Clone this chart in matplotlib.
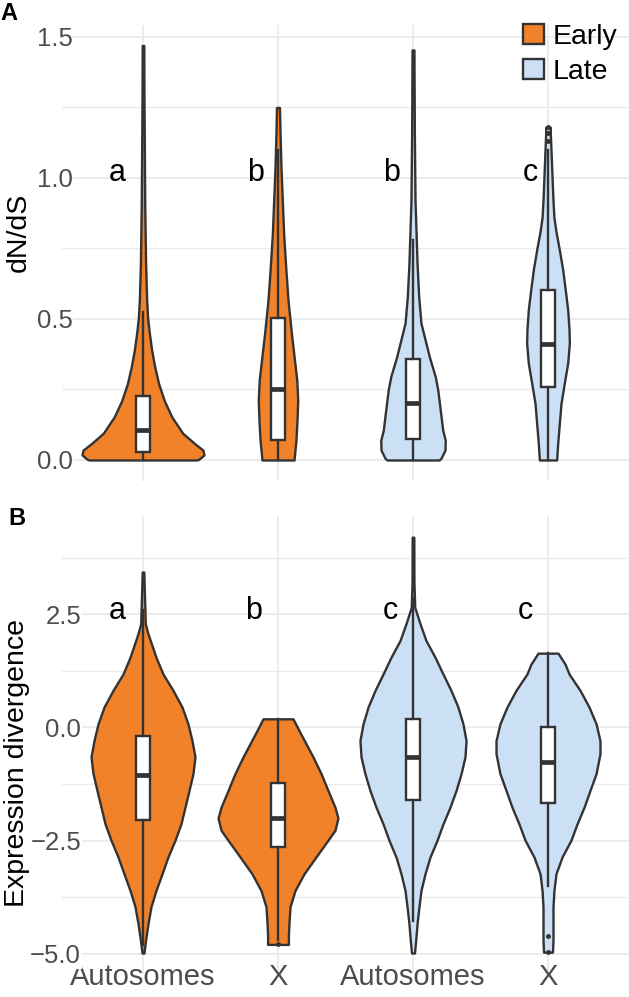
import matplotlib
matplotlib.use("Agg")
import matplotlib.pyplot as plt
from matplotlib.patches import Patch
import numpy as np

plt.rcParams['font.family'] = ['Liberation Sans', 'DejaVu Sans']

# categories / groups
categories = ["Autosomes", "X", "Autosomes", "X"]
groups = ["Early", "Early", "Late", "Late"]
group_colors = {"Early": "#F28229", "Late": "#CCE0F5"}
outline = "#333333"

# ---- panel A: dN/dS, violin outlines (y, half width) ----
dnds_y = [
    [0.0, 0.003, 0.018, 0.035, 0.06, 0.095, 0.153, 0.21, 0.27, 0.33, 0.39,
     0.45, 0.5, 0.567, 0.7, 0.9, 1.1, 1.3, 1.47],
    [0.0, 0.012, 0.07, 0.142, 0.213, 0.284, 0.33, 0.45, 0.567, 0.685, 0.8,
     0.92, 1.04, 1.16, 1.25],
    [0.0, 0.006, 0.035, 0.07, 0.106, 0.177, 0.25, 0.295, 0.366, 0.437, 0.485,
     0.58, 0.697, 0.816, 0.92, 1.16, 1.454],
    [0.0, 0.06, 0.13, 0.2, 0.273, 0.344, 0.414, 0.461, 0.532, 0.603, 0.674,
     0.745, 0.81, 0.86, 0.92, 0.98, 1.04, 1.1, 1.16, 1.18],
]
dnds_hw = [
    [0.40, 0.415, 0.452, 0.444, 0.378, 0.294, 0.213, 0.158, 0.116, 0.087, 0.064,
     0.047, 0.035, 0.027, 0.019, 0.013, 0.010, 0.007, 0.006],
    [0.119, 0.121, 0.133, 0.141, 0.146, 0.139, 0.128, 0.099, 0.074, 0.057, 0.042,
     0.032, 0.022, 0.015, 0.011],
    [0.193, 0.207, 0.237, 0.239, 0.22, 0.202, 0.183, 0.165, 0.121, 0.084, 0.059,
     0.042, 0.030, 0.022, 0.015, 0.010, 0.007],
    [0.064, 0.072, 0.084, 0.096, 0.121, 0.146, 0.158, 0.156, 0.146, 0.128, 0.109,
     0.084, 0.059, 0.044, 0.037, 0.032, 0.027, 0.022, 0.017, 0.017],
]
# box stats: whislo, q1, med, q3, whishi
dnds_box = [
    [0.0, 0.03, 0.106, 0.228, 0.525],
    [0.0, 0.071, 0.252, 0.503, 1.10],
    [0.0, 0.073, 0.201, 0.357, 0.78],
    [0.0, 0.26, 0.411, 0.603, 1.10],
]
dnds_fliers = [[], [], [], [1.13, 1.16, 1.18]]
dnds_letters = ["a", "b", "b", "c"]

# ---- panel B: expression divergence ----
expr_y = [
    [3.43, 2.9, 2.29, 2.07, 1.55, 1.18, 0.82, 0.45, 0.08, -0.29, -0.65, -1.02,
     -1.39, -1.76, -2.13, -2.49, -2.86, -3.23, -3.6, -3.96, -4.33, -4.7, -4.98],
    [0.19, -0.07, -0.65, -1.02, -1.39, -1.76, -2.0, -2.27, -2.49, -2.86, -3.23,
     -3.6, -3.96, -4.33, -4.6, -4.79],
    [4.2, 3.2, 2.65, 2.29, 1.92, 1.55, 1.18, 0.82, 0.45, 0.08, -0.29, -0.65,
     -1.02, -1.39, -1.76, -2.13, -2.49, -2.86, -3.23, -3.6, -3.96, -4.33, -4.7, -4.98],
    [1.64, 1.4, 1.18, 0.82, 0.45, 0.08, -0.29, -0.58, -1.02, -1.39, -1.76, -2.13,
     -2.49, -2.86, -3.23, -3.6, -3.96, -4.33, -4.7, -4.96],
]
expr_hw = [
    [0.006, 0.011, 0.017, 0.037, 0.096, 0.148, 0.222, 0.289, 0.333, 0.363, 0.385,
     0.370, 0.341, 0.311, 0.281, 0.237, 0.185, 0.141, 0.096, 0.059, 0.037, 0.019, 0.007],
    [0.111, 0.156, 0.259, 0.319, 0.370, 0.422, 0.444, 0.422, 0.370, 0.281, 0.193,
     0.126, 0.089, 0.081, 0.077, 0.077],
    [0.006, 0.007, 0.013, 0.052, 0.096, 0.163, 0.222, 0.281, 0.333, 0.370, 0.393,
     0.385, 0.356, 0.319, 0.274, 0.222, 0.178, 0.126, 0.089, 0.059, 0.044, 0.030,
     0.020, 0.011],
    [0.074, 0.126, 0.156, 0.237, 0.304, 0.356, 0.385, 0.385, 0.356, 0.311, 0.267,
     0.215, 0.170, 0.104, 0.059, 0.044, 0.037, 0.037, 0.037, 0.033],
]
expr_box = [
    [-4.8, -2.04, -1.04, -0.18, 2.6],
    [-4.7, -2.63, -2.0, -1.23, 0.19],
    [-4.27, -1.6, -0.65, 0.18, 2.85],
    [-3.49, -1.67, -0.76, 0.0, 1.64],
]
expr_fliers = [[], [-4.79], [], [-4.6, -4.96]]
expr_letters = ["a", "b", "c", "c"]

W, H = 629, 997
fig = plt.figure(figsize=(W / 100, H / 100), dpi=100)
axA = fig.add_axes([62 / W, 1 - 480.7 / H, 567 / W, 456 / H])
axB = fig.add_axes([62 / W, 1 - 973.8 / H, 567 / W, 457.4 / H])

grid_col = "#EBEBEB"
text_col = "#4D4D4D"
lw = 1.7


def draw_panel(ax, ys, hws, boxes, fliers, letters, letter_y, letter_dx,
               major, minor, ylabel, label_pad):
    xs = np.arange(1, len(categories) + 1)
    for x, y, hw, g in zip(xs, ys, hws, groups):
        y = np.array(y)
        hw = np.array(hw)
        ax.fill_betweenx(y, x - hw, x + hw, facecolor=group_colors[g],
                         edgecolor=outline, linewidth=lw, zorder=2)
    stats = []
    for b, f in zip(boxes, fliers):
        stats.append(dict(whislo=b[0], q1=b[1], med=b[2], q3=b[3], whishi=b[4],
                          fliers=f))
    ax.bxp(stats, positions=xs, widths=0.105, patch_artist=True,
           showcaps=False, manage_ticks=False,
           boxprops=dict(facecolor="white", edgecolor=outline, linewidth=lw),
           medianprops=dict(color=outline, linewidth=3.4, solid_capstyle="butt"),
           whiskerprops=dict(color=outline, linewidth=lw),
           flierprops=dict(marker="o", markersize=2.5, markerfacecolor=outline,
                           markeredgecolor=outline),
           zorder=3)
    for x, lab, dx in zip(xs, letters, letter_dx):
        ax.text(x + dx, letter_y, lab, ha="center", va="baseline",
                fontsize=22, color="black")

    # ggplot-like expansion
    lo = min(min(v) for v in ys)
    hi = max(max(v) for v in ys)
    pad = (hi - lo) * 0.05
    ax.set_ylim(lo - pad, hi + pad)
    ax.set_xlim(0.4, len(categories) + 0.6)
    ax.set_yticks(major)
    ax.set_yticks(minor, minor=True)
    ax.set_xticks(xs)
    ax.set_axisbelow(True)
    ax.grid(True, which="major", color=grid_col, linewidth=1.3)
    ax.grid(True, which="minor", axis="y", color=grid_col, linewidth=1.0)
    for s in ax.spines.values():
        s.set_visible(False)
    ax.tick_params(axis="both", which="both", length=0)
    ax.tick_params(axis="y", labelsize=18.5, labelcolor=text_col, pad=label_pad)
    ax.set_ylabel(ylabel, fontsize=20.5, color="black")


draw_panel(axA, dnds_y, dnds_hw, dnds_box, dnds_fliers, dnds_letters, 0.99,
           [-0.19, -0.17, -0.16, -0.13],
           [0.0, 0.5, 1.0, 1.5], [0.25, 0.75, 1.25], "dN/dS", -7.5)
axA.set_yticklabels(["0.0", "0.5", "1.0", "1.5"])
for t in axA.get_yticklabels():
    t.set_bbox(dict(facecolor="white", edgecolor="none", pad=0.5))
axA.set_xticklabels([])
axA.yaxis.set_label_coords(-0.053, 0.545)

draw_panel(axB, expr_y, expr_hw, expr_box, expr_fliers, expr_letters, 2.40,
           [-0.19, -0.18, -0.17, -0.17],
           [-5.0, -2.5, 0.0, 2.5], [-3.75, -1.25, 1.25, 3.75],
           "Expression divergence", -13.7)
axB.set_yticklabels(["\u22125.0", "\u22122.5", "0.0", "2.5"])
for t in axB.get_yticklabels():
    t.set_bbox(dict(facecolor="white", edgecolor="none", pad=0.5))
axB.set_xticklabels(categories)
axB.tick_params(axis="x", labelsize=21, labelcolor=text_col, pad=-8)
axB.yaxis.set_label_coords(-0.0556, 0.46)

handles = [Patch(facecolor=group_colors[g], edgecolor=outline, linewidth=lw, label=g)
           for g in ["Early", "Late"]]
axA.legend(handles=handles, loc="upper right", frameon=False, fontsize=20.5,
           bbox_to_anchor=(617 / W, 1 - 24 / H), bbox_transform=fig.transFigure,
           handlelength=0.72, handleheight=0.72, handletextpad=0.3,
           labelspacing=0.3, borderpad=0, borderaxespad=0)

fig.text(0 / W, 1 - 2 / H, "A", fontsize=17, fontweight="bold", va="top", ha="left")
fig.text(8 / W, 1 - 507 / H, "B", fontsize=17, fontweight="bold", va="top", ha="left")

fig.savefig("out.png", dpi=100)
